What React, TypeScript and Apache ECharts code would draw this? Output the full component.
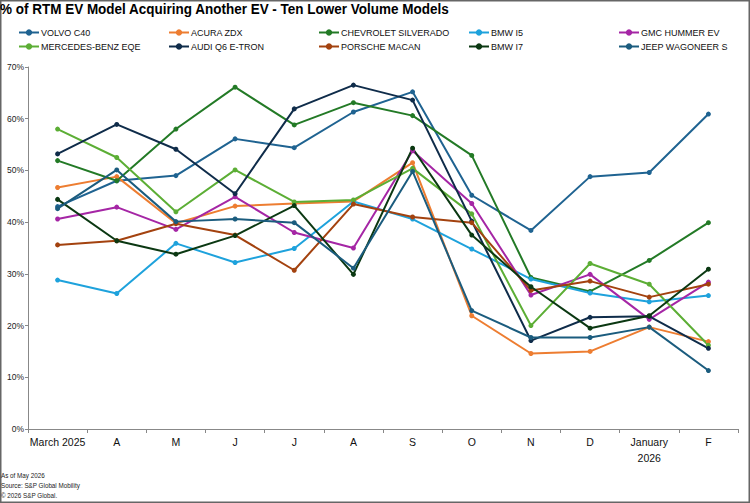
import React, { useEffect, useRef } from "react";
import * as echarts from "echarts";

const months = ["March 2025", "A", "M", "J", "J", "A", "S", "O", "N", "D", "January\n2026", "F"];
const yTicks = [0, 10, 20, 30, 40, 50, 60, 70];

const volvoC40 = [43.0, 48.0, 49.0, 56.1, 54.4, 61.3, 65.2, 45.2, 38.4, 48.8, 49.6, 60.9];
const acuraZdx = [46.7, 48.8, 39.8, 43.1, 43.6, 44.0, 51.5, 21.9, 14.6, 15.0, 19.7, 16.9];
const chevroletSilverado = [51.9, 48.0, 58.0, 66.1, 58.8, 63.1, 60.6, 52.9, 29.3, 26.6, 32.6, 39.9];
const bmwI5 = [28.8, 26.2, 35.9, 32.2, 34.9, 44.0, 40.6, 34.8, 29.0, 26.3, 24.6, 25.8];
const gmcHummerEv = [40.6, 42.9, 38.6, 44.9, 38.0, 35.0, 53.8, 43.6, 25.9, 29.9, 21.2, 28.4];
const mercedesEqe = [58.0, 52.5, 42.0, 50.1, 43.9, 44.3, 50.4, 41.6, 20.0, 32.0, 28.0, 16.2];
const audiQ6 = [53.2, 58.9, 54.1, 45.5, 61.9, 66.5, 63.6, 40.2, 17.1, 21.6, 21.8, 15.6];
const porscheMacan = [35.6, 36.4, 39.7, 37.5, 30.7, 43.5, 41.0, 39.9, 26.8, 28.6, 25.5, 28.0];
const bmwI7 = [44.4, 36.4, 33.8, 37.4, 43.2, 29.9, 54.3, 37.5, 27.5, 19.5, 21.9, 30.9];
const jeepWagoneerS = [42.6, 50.1, 40.1, 40.6, 39.9, 31.1, 49.8, 22.9, 17.7, 17.7, 19.7, 11.3];

const seriesDefs = [
  { name: "VOLVO C40", data: volvoC40, color: "#1f6391" },
  { name: "ACURA ZDX", data: acuraZdx, color: "#ed7d31" },
  { name: "CHEVROLET SILVERADO", data: chevroletSilverado, color: "#237a26" },
  { name: "BMW I5", data: bmwI5, color: "#1ea2dc" },
  { name: "GMC HUMMER EV", data: gmcHummerEv, color: "#a526a5" },
  { name: "MERCEDES-BENZ EQE", data: mercedesEqe, color: "#5cae35" },
  { name: "AUDI Q6 E-TRON", data: audiQ6, color: "#0f2c4a" },
  { name: "PORSCHE MACAN", data: porscheMacan, color: "#a3420f" },
  { name: "BMW I7", data: bmwI7, color: "#0b3812" },
  { name: "JEEP WAGONEER S", data: jeepWagoneerS, color: "#1b5c7e" },
];

const FONT = "'Liberation Sans', Arial, sans-serif";
const legendLefts = [18, 168, 318, 468, 618];

export default function App() {
  const ref = useRef<HTMLDivElement>(null);
  useEffect(() => {
    if (!ref.current) return;
    const chart = echarts.init(ref.current, null, { renderer: "svg" });
    const legends = legendLefts.map((left, i) => ({
      orient: "vertical",
      left,
      top: 28,
      padding: 0,
      itemGap: 5,
      itemWidth: 20,
      itemHeight: 8,
      data: [seriesDefs[i].name, seriesDefs[i + 5].name],
      textStyle: { fontSize: 9, color: "#111", fontFamily: FONT, padding: [0, 0, 0, -3] },
    }));
    chart.setOption({
      animation: false,
      backgroundColor: "#fff",
      legend: legends,
      grid: { left: 28, right: 12, top: 67, bottom: 74, containLabel: false },
      xAxis: {
        type: "category",
        data: months,
        boundaryGap: true,
        axisLine: { show: true, lineStyle: { color: "#888", width: 1 } },
        axisTick: { show: true, alignWithLabel: false, length: 4, lineStyle: { color: "#888" } },
        axisLabel: { fontSize: 10.5, color: "#111", fontFamily: FONT, margin: 5, lineHeight: 16, interval: 0 },
        splitLine: { show: false },
      },
      yAxis: {
        type: "value",
        min: yTicks[0],
        max: yTicks[yTicks.length - 1],
        interval: 10,
        axisLine: { show: true, lineStyle: { color: "#888", width: 1 } },
        axisTick: { show: true, length: 3, lineStyle: { color: "#888" } },
        axisLabel: { formatter: "{value}%", fontSize: 8.5, color: "#222", fontFamily: FONT, margin: 4 },
        splitLine: { show: false },
      },
      series: seriesDefs.map((s) => ({
        name: s.name,
        type: "line",
        data: s.data,
        symbol: "circle",
        symbolSize: 5,
        lineStyle: { width: 2, color: s.color },
        itemStyle: { color: s.color },
        emphasis: { disabled: true },
      })),
      graphic: [
        {
          type: "rect",
          shape: { x: 0.75, y: 0.75, width: 748.5, height: 501.5 },
          style: { fill: "none", stroke: "#666", lineWidth: 1.5 },
          silent: true,
        },
        {
          type: "text",
          x: 0,
          y: 1,
          scaleX: 0.9,
          style: {
            text: "% of RTM EV Model Acquiring Another EV - Ten Lower Volume Models",
            fontSize: 15,
            fontWeight: "bold",
            fill: "#000",
            fontFamily: FONT,
          },
        },
        { type: "text", x: 1, y: 472, scaleX: 0.9, style: { text: "As of May 2026", fontSize: 7, fill: "#222", fontFamily: FONT } },
        { type: "text", x: 1, y: 482, scaleX: 0.9, style: { text: "Source: S&P Global Mobility", fontSize: 7, fill: "#222", fontFamily: FONT } },
        { type: "text", x: 1, y: 492, scaleX: 0.9, style: { text: "© 2026 S&P Global.", fontSize: 7, fill: "#222", fontFamily: FONT } },
      ],
    });
    return () => chart.dispose();
  }, []);
  return <div ref={ref} style={{ position: "fixed", left: 0, top: 0, width: 750, height: 503 }} />;
}
